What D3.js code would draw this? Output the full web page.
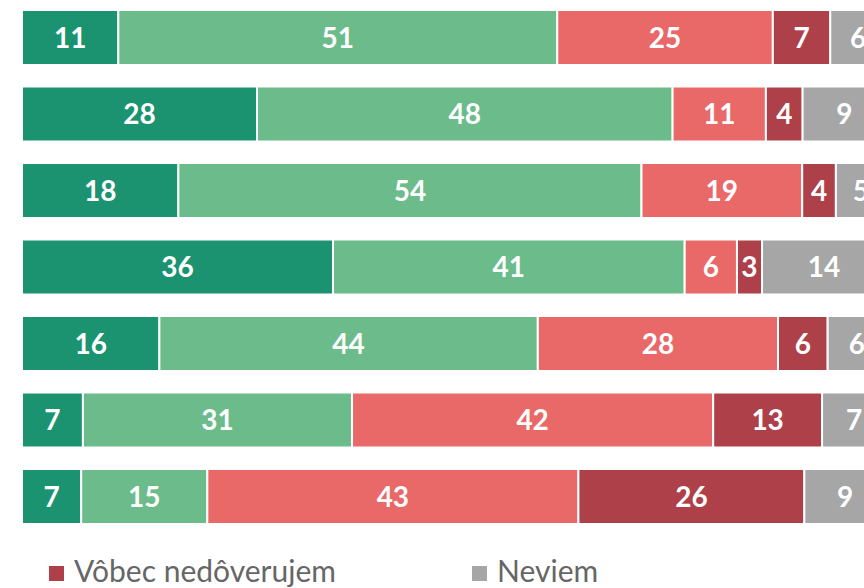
<!DOCTYPE html>
<html>
<head>
<meta charset="utf-8">
<script src="https://cdn.jsdelivr.net/npm/d3@7"></script>
<style>
  html, body { margin: 0; padding: 0; background: #fff; overflow: hidden; }
  svg { display: block; }
</style>
</head>
<body>
<div id="chart"></div>
<script>
// Rows of the chart (row labels are cropped out of the picture)
const rows = ['r1', 'r2', 'r3', 'r4', 'r5', 'r6', 'r7'];

// Series, in stacking order
const seriesNames = ['Úplne dôverujem', 'Skôr dôverujem', 'Skôr nedôverujem', 'Vôbec nedôverujem', 'Neviem'];
const seriesColors = ['#1b9370', '#6bbb8b', '#e96868', '#ae4049', '#a6a6a6'];

// Segment sizes (percent)
const fullyTrust = [11.15, 27.2, 18.1, 36.0, 15.9, 7.05, 6.85];
const ratherTrust = [50.8, 48.1, 53.6, 40.7, 43.8, 31.15, 14.6];
const ratherDistrust = [24.95, 10.8, 18.6, 6.05, 27.8, 41.8, 42.95];
const noTrust = [6.65, 4.25, 3.9, 2.9, 5.75, 12.6, 26.15];
const dontKnow = [6.45, 9.65, 5.8, 14.35, 6.75, 7.4, 9.45];

// Value labels printed on the segments
const fullyTrustLabels = [11, 28, 18, 36, 16, 7, 7];
const ratherTrustLabels = [51, 48, 54, 41, 44, 31, 15];
const ratherDistrustLabels = [25, 11, 19, 6, 28, 42, 43];
const noTrustLabels = [7, 4, 4, 3, 6, 13, 26];
const dontKnowLabels = [6, 9, 5, 14, 6, 7, 9];

// Only these legend entries are visible in the picture
const legendItems = ['Vôbec nedôverujem', 'Neviem'];

const w = 864;
const h = 588;

const svg = d3.select('#chart')
  .append('svg')
  .attr('width', w)
  .attr('height', h);

// build a table the stack layout can use
const values = [fullyTrust, ratherTrust, ratherDistrust, noTrust, dontKnow];
const labels = [fullyTrustLabels, ratherTrustLabels, ratherDistrustLabels, noTrustLabels, dontKnowLabels];
const table = rows.map((r, i) => {
  const o = { row: r, index: i };
  seriesNames.forEach((s, k) => (o[s] = values[k][i]));
  return o;
});

const stacked = d3.stack().keys(seriesNames)(table);

const xscale = d3.scaleLinear().domain([0, 100]).range([22, 886]);
const yscale = d3.scaleBand().domain(rows).range([10, 524]).paddingInner(0.281).paddingOuter(0);
const color = d3.scaleOrdinal().domain(seriesNames).range(seriesColors);

const groups = svg.selectAll('g.series')
  .data(stacked)
  .enter()
  .append('g')
  .attr('class', 'series')
  .attr('fill', (d) => color(d.key));

groups.selectAll('rect')
  .data((d) => d)
  .enter()
  .append('rect')
  .attr('x', (d) => xscale(d[0]))
  .attr('y', (d) => yscale(d.data.row))
  .attr('width', (d) => xscale(d[1]) - xscale(d[0]))
  .attr('height', yscale.bandwidth())
  .attr('stroke', '#fff')
  .attr('stroke-width', 2);

// value labels in the middle of each segment
groups.selectAll('text')
  .data((d) => d.map((p) => ({ p: p, k: d.index })))
  .enter()
  .append('text')
  .attr('x', (d) => (xscale(d.p[0]) + xscale(d.p[1])) / 2)
  .attr('y', (d) => yscale(d.p.data.row) + yscale.bandwidth() / 2)
  .attr('dy', '0.36em')
  .attr('text-anchor', 'middle')
  .attr('fill', '#fff')
  .attr('font-family', 'Lato, "Open Sans", sans-serif')
  .attr('font-weight', 'bold')
  .attr('font-size', 28)
  .text((d) => labels[d.k][d.p.data.index]);

// legend
const legendX = d3.scalePoint().domain(legendItems).range([49, 472]);
const legend = svg.selectAll('g.legend')
  .data(legendItems)
  .enter()
  .append('g')
  .attr('class', 'legend')
  .attr('transform', (d) => 'translate(' + legendX(d) + ', 582)');

legend.append('rect')
  .attr('x', 0)
  .attr('y', -16)
  .attr('width', 15)
  .attr('height', 15)
  .attr('fill', (d) => color(d));

legend.append('text')
  .attr('x', 25)
  .attr('y', 0)
  .attr('fill', '#666666')
  .attr('font-family', 'Lato, "Open Sans", sans-serif')
  .attr('font-size', 30)
  .text((d) => d);
</script>
</body>
</html>
